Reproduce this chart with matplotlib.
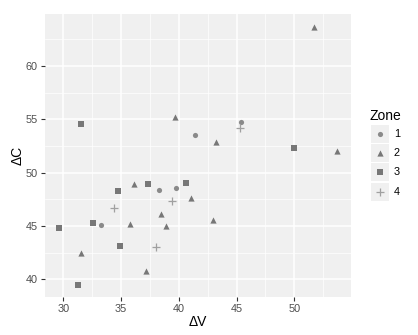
import matplotlib.pyplot as plt
from matplotlib.patches import Rectangle
import numpy as np

plt.rcParams['font.family'] = ['Liberation Sans', 'DejaVu Sans']

# data: (dV, dC) per zone
z1_v = [41.4, 45.4, 38.3, 39.8, 33.3]
z1_c = [53.5, 54.8, 48.4, 48.6, 45.1]

z2_v = [51.7, 39.7, 43.2, 53.7, 36.1, 41.1, 38.5, 43.0, 35.8, 38.9, 31.5, 37.2]
z2_c = [63.7, 55.2, 52.85, 52.0, 48.95, 47.6, 46.15, 45.6, 45.2, 45.0, 42.5, 40.8]

z3_v = [31.5, 50.0, 37.3, 40.6, 34.7, 32.6, 29.6, 34.9, 31.3]
z3_c = [54.6, 52.3, 48.9, 49.0, 48.3, 45.3, 44.8, 43.1, 39.5]

z4_v = [45.3, 39.4, 34.4, 38.05]
z4_c = [54.2, 47.3, 46.7, 43.0]

zones = ['1', '2', '3', '4']

# marker style per zone
mk = ['o', '^', 's', '+']
sz = [14, 20, 13, 40]
cols = ['#8a8a8a', '#777777', '#777777', '#a0a0a0']

W, H = 418, 335
fig = plt.figure(figsize=(W / 100, H / 100), dpi=100)
ax = fig.add_axes([44.7 / W, 1 - 297.3 / H, (351 - 44.7) / W, (297.3 - 14) / H])

ax.set_facecolor('#F0F0F0')
for s in ax.spines.values():
    s.set_visible(False)

for i, (v, c) in enumerate([(z1_v, z1_c), (z2_v, z2_c), (z3_v, z3_c), (z4_v, z4_c)]):
    lw = 0.9 if mk[i] == '+' else 0
    ax.scatter(v, c, marker=mk[i], s=sz[i], color=cols[i], linewidths=lw, zorder=3)

ax.set_xlim(28.39, 54.91)
ax.set_ylim(38.31, 64.89)
ax.set_xticks([30, 35, 40, 45, 50])
ax.set_yticks([40, 45, 50, 55, 60])
ax.set_xticks(np.arange(32.5, 55, 5), minor=True)
ax.set_yticks(np.arange(42.5, 65, 5), minor=True)
ax.grid(True, which='major', color='white', linewidth=1.1, zorder=0)
ax.grid(True, which='minor', color='white', linewidth=0.5, zorder=0)
ax.set_axisbelow(True)

ax.tick_params(which='major', length=3, color='#333333', width=0.8,
               labelsize=7.8, labelcolor='#4d4d4d', pad=2)
ax.tick_params(which='minor', length=0)

ax.set_xlabel('ΔV', fontsize=10, va='center')
ax.set_ylabel('ΔC', fontsize=10, va='center')
ax.xaxis.set_label_coords(0.5, -(322 - 297.3) / 283.3)
ax.yaxis.set_label_coords((18 - 44.7) / 306.3, 0.5)

# legend drawn by hand in pixel coords (ggplot style grey key boxes)
lax = fig.add_axes([371 / W, 1 - 202 / H, (W - 371) / W, (202 - 124) / H])
lax.set_xlim(0, W - 371)
lax.set_ylim(202 - 124, 0)
lax.axis('off')
key_h = 19.2
for i, z in enumerate(zones):
    y0 = 1 + i * key_h
    lax.add_patch(Rectangle((0, y0), 18, key_h - 1.2, facecolor='#F0F0F0', edgecolor='none'))
    yc = y0 + (key_h - 1.2) / 2
    lw = 0.9 if mk[i] == '+' else 0
    lax.scatter([9], [yc], marker=mk[i], s=sz[i], color=cols[i], linewidths=lw)
    lax.text(23, yc, z, fontsize=7.8, va='center', ha='left', color='black')

fig.text(370 / W, 1 - 120 / H, 'Zone', fontsize=10, va='baseline', ha='left')

fig.savefig('out.png', dpi=100)
